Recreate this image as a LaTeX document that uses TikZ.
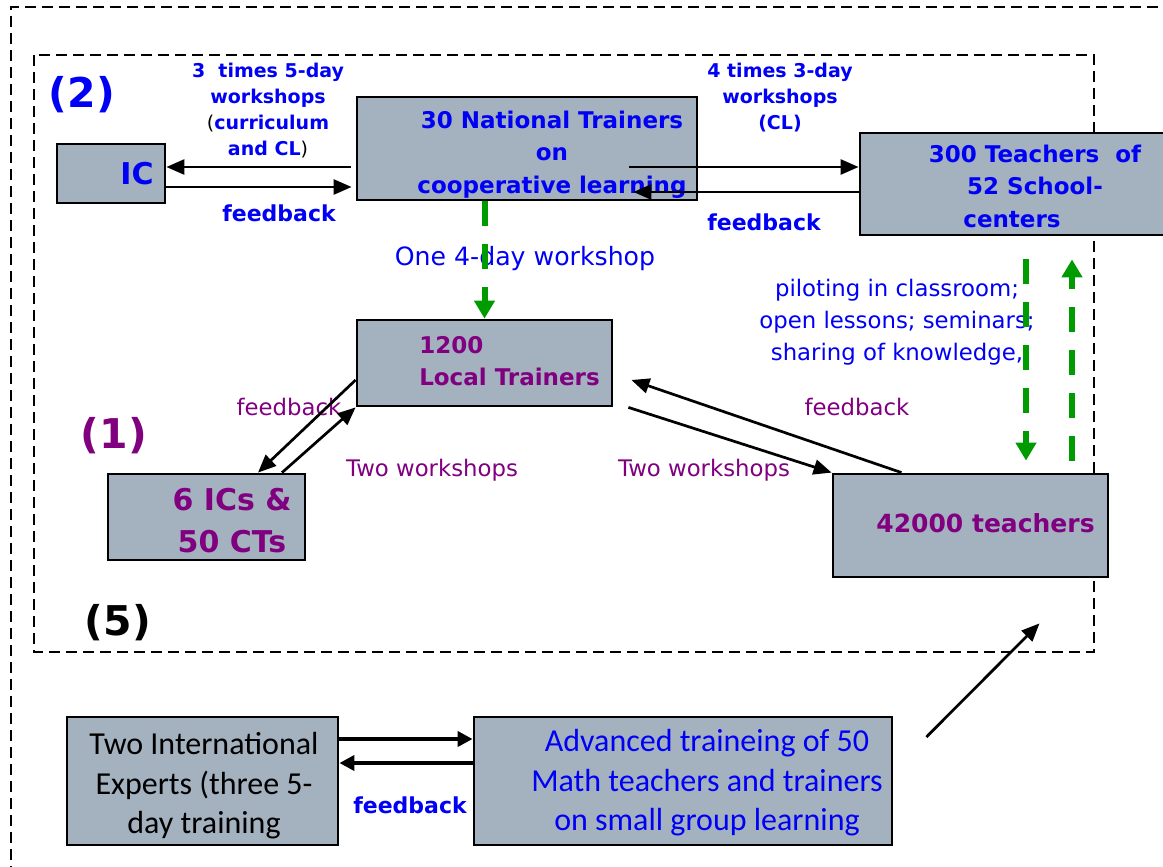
\documentclass[tikz,border=0pt]{standalone}
\usepackage{fontspec}
\setmainfont{DejaVu Sans}
\newfontfamily\carlito{Carlito}
\usepackage{xcolor}
\usepackage{tikz}
\usetikzlibrary{shapes,arrows,arrows.meta,positioning,calc}

\definecolor{boxgray}{RGB}{164,177,191}
\definecolor{txtblue}{RGB}{0,0,245}
\definecolor{txtpurple}{RGB}{128,0,128}
\definecolor{flowgreen}{RGB}{0,155,0}

\begin{document}
\begin{tikzpicture}[x=0.5pt, y=-0.5pt,
    box/.style={rectangle, draw, line width=1.4pt, fill=boxgray, inner sep=0pt},
    boxtext/.style={font=\bfseries\fontsize{11.5}{16.25}\selectfont, align=center},
    smalltext/.style={font=\bfseries\fontsize{9.5}{13}\selectfont, align=center, text=txtblue},
    fbtext/.style={font=\bfseries\fontsize{11}{13}\selectfont, text=txtblue},
    plaintext/.style={font=\fontsize{11.4}{16}\selectfont, align=center},
    bottomtext/.style={font=\carlito\fontsize{16}{19.75}\selectfont, align=center},
    tagtext/.style={font=\bfseries\fontsize{20.5}{24}\selectfont},
    arrow/.style={->, >={Triangle[length=9pt,width=7.5pt]}, line width=1.35pt},
    thickarrow/.style={->, >={Triangle[length=7.5pt,width=7.5pt]}, line width=2pt},
    greenarrow/.style={->, >={Triangle[length=9pt,width=10pt]}, draw=flowgreen, line width=3pt, dash pattern=on 12.5pt off 9pt},
    frame/.style={dash pattern=on 5.5pt off 3pt, line width=0.9pt}]

    \useasboundingbox (0,0) rectangle (1163,867);
    \clip (0,0) rectangle (1163,867);

    % dashed frames
    \draw[frame] (1175,7) -- (11,7) -- (11,880);
    \draw[frame] (34,55) rectangle (1094,652);

    \node[tagtext, text=txtblue] (tag2) at (82,95) {(2)};
    \node[tagtext, text=txtpurple] (tag1) at (114,436) {(1)};
    \node[tagtext] (tag5) at (118,623) {(5)};

    % boxes
    \node[box, minimum width=54pt, minimum height=29.5pt,
        label={[boxtext, text=txtblue, font=\bfseries\fontsize{15}{18}\selectfont, xshift=13pt]center:IC}] (ic) at (111,173.5) {};
    \node[box, minimum width=170pt, minimum height=51.5pt,
        label={[boxtext, text=txtblue, xshift=12.5pt, yshift=-3pt]center:30 National Trainers\\on\\cooperative learning}] (nt) at (527,148.5) {};
    \node[box, minimum width=154pt, minimum height=51pt,
        label={[boxtext, text=txtblue, xshift=10.5pt, yshift=-1pt]center:300 Teachers\ \ of\\52 School-\\centers\hspace*{23pt}}] (tch) at (1014,184) {};
    \node[box, minimum width=127.5pt, minimum height=43pt,
        label={[boxtext, align=left, text=txtpurple, xshift=12.5pt, yshift=1pt]center:1200\\Local Trainers}] (lt) at (484.5,363) {};
    \node[box, minimum width=98.5pt, minimum height=43pt,
        label={[boxtext, text=txtpurple, font=\bfseries\fontsize{15}{21}\selectfont, xshift=12.75pt, yshift=-2pt]center:6 ICs \&\\50 CTs}] (ics) at (206.5,517) {};
    \node[box, minimum width=137.5pt, minimum height=51.5pt,
        label={[boxtext, text=txtpurple, font=\bfseries\fontsize{12.5}{15}\selectfont, xshift=7.5pt, yshift=1pt]center:42000 teachers}] (tea) at (970.5,525.5) {};
    \node[box, minimum width=135.5pt, minimum height=64pt,
        label={[bottomtext, xshift=0.75pt, yshift=-2.5pt]center:Two International\\Experts (three 5-\\day training}] (exp) at (202.5,781) {};
    \node[box, minimum width=209pt, minimum height=64pt,
        label={[bottomtext, text=txtblue, xshift=12pt, yshift=-1pt]center:Advanced traineing of 50\\Math teachers and trainers\\on small group learning}] (adv) at (683,781) {};

    % labels
    \node[smalltext] (lblcurr) at (268,111) {3\ \ times 5-day\\workshops\\{\color{black}\mdseries(}curriculum\\and CL{\color{black}\mdseries)}};
    \node[fbtext] (lblfbic) at (279,213) {feedback};
    \node[smalltext] (lblcl) at (780,98) {4 times 3-day\\workshops\\(CL)};
    \node[fbtext] (lblfbtch) at (764,222) {feedback};
    \node[plaintext, text=txtblue, font=\fontsize{12.6}{16}\selectfont] (lblone) at (525,259) {One 4-day workshop};
    \node[plaintext, text=txtblue] (lblpilot) at (897,322) {piloting in classroom;\\open lessons; seminars;\\sharing of knowledge,};
    \node[plaintext, text=txtpurple] (lblfbics) at (289,407) {feedback};
    \node[plaintext, text=txtpurple] (lbltwoics) at (432,470) {Two workshops};
    \node[plaintext, text=txtpurple] (lblfbtea) at (857,407) {feedback};
    \node[plaintext, text=txtpurple] (lbltwotea) at (704,470) {Two workshops};
    \node[fbtext] (lblfbexp) at (410,805) {feedback};

    % connectors
    \draw[arrow] ([xshift=-2.5pt, yshift=-9.25pt]nt.west) -- ([yshift=3.25pt]ic.east);
    \draw[arrow] ([yshift=-6.75pt]ic.east) -- ([xshift=-2pt, yshift=-19.25pt]nt.west);
    \draw[arrow] ([xshift=-34.5pt, yshift=-9.25pt]nt.east) -- ([yshift=8.5pt]tch.west);
    \draw[arrow] ([yshift=-4pt]tch.west) -- ([xshift=-32.5pt, yshift=-21.75pt]nt.east);

    \draw[greenarrow] ([xshift=-21.25pt]nt.south) -- (lt.north);
    \draw[greenarrow] ([xshift=6pt, yshift=-11.5pt]tch.south) -- ([xshift=27.75pt, yshift=6pt]tea.north);
    \draw[greenarrow] ([xshift=50.75pt, yshift=6pt]tea.north) -- ([xshift=29pt, yshift=-11.5pt]tch.south);

    \draw[arrow] ([yshift=-8.5pt]lt.west) -- ([xshift=25.75pt]ics.north);
    \draw[arrow] ([xshift=37.75pt]ics.north) -- (lt.south west);
    \draw[arrow] ([xshift=-34.5pt]tea.north) -- ([xshift=9pt, yshift=-8.5pt]lt.east);
    \draw[arrow] ([xshift=7.5pt]lt.south east) -- (tea.north west);

    \draw[arrow] ([xshift=16.5pt, yshift=22pt]adv.east) -- ([xshift=34.5pt, yshift=-22.5pt]tea.south);
    \draw[thickarrow] ([yshift=21pt]exp.east) -- ([yshift=21pt]adv.west);
    \draw[thickarrow] ([yshift=9pt]adv.west) -- ([yshift=9pt]exp.east);
\end{tikzpicture}
\end{document}
